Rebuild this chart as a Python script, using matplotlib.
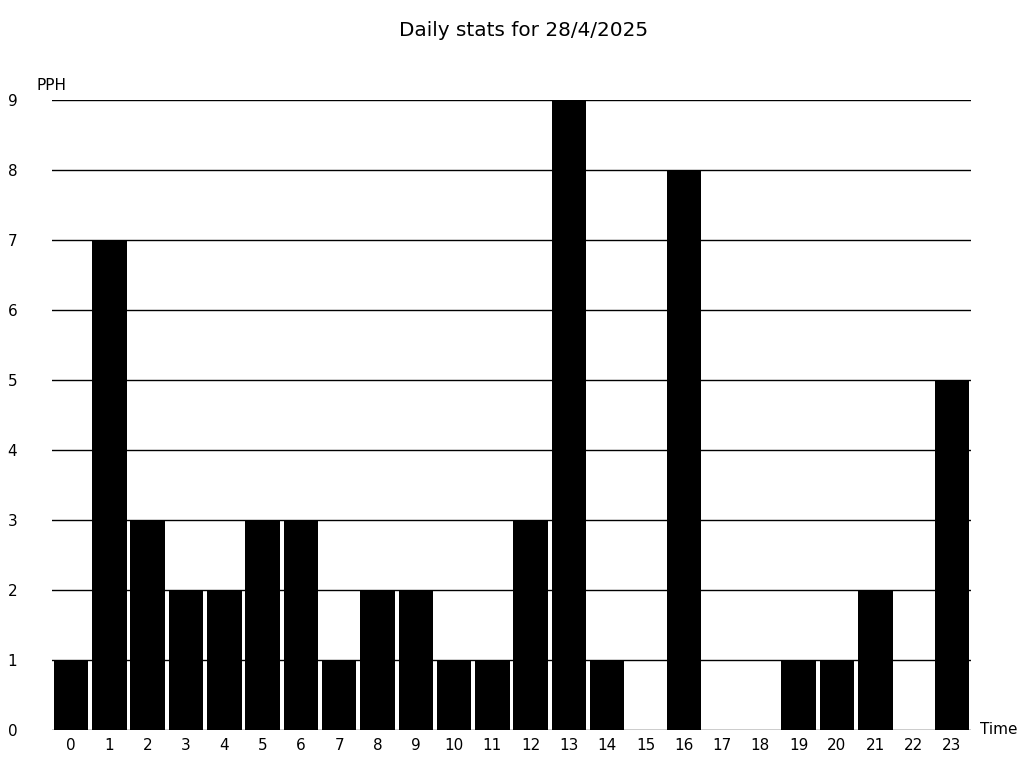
import matplotlib
matplotlib.use("Agg")
import matplotlib.pyplot as plt

hours = list(range(24))
pph = [1, 7, 3, 2, 2, 3, 3, 1, 2, 2, 1, 1, 3, 9, 1, 0, 8, 0, 0, 1, 1, 2, 0, 5]
yticks = list(range(10))
title = "Daily stats for 28/4/2025"

fig = plt.figure(figsize=(10.24, 7.68), dpi=100)
W, H = 1024, 768
ax = fig.add_axes([52 / W, 1 - 730 / H, (971 - 52) / W, (730 - 100) / H])

ax.bar(hours, pph, width=0.9, color="black", zorder=2)
for y in yticks:
    ax.axhline(y, color="black", linewidth=1, zorder=1)

ax.set_xlim(-0.5, 23.5)
ax.set_ylim(0, 9)
ax.set_xticks(hours)
ax.set_xticklabels([str(h) for h in hours], fontsize=11)
ax.set_yticks(yticks)
ax.set_yticklabels([str(y) for y in yticks], fontsize=11)
ax.tick_params(axis="both", length=0)
ax.tick_params(axis="y", pad=25)
ax.tick_params(axis="x", pad=6)
for s in ax.spines.values():
    s.set_visible(False)

fig.text(37 / W, 1 - 85 / H, "PPH", fontsize=11, ha="left", va="center")
fig.text(980 / W, 1 - 730 / H, "Time", fontsize=11, ha="left", va="center")
fig.text(524 / W, 1 - 30 / H, title, fontsize=14.4, ha="center", va="center")

fig.savefig("out.png", dpi=100)
